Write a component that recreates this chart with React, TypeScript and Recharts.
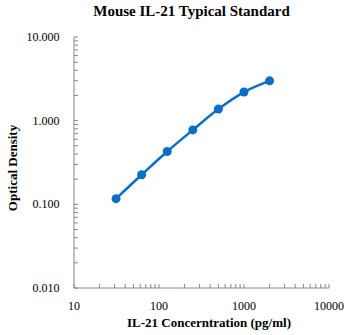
import { Label, Line, LineChart, XAxis, YAxis } from "recharts"

const concentrations = [31.25, 62.5, 125, 250, 500, 1000, 2000]
const densities = [0.117, 0.226, 0.428, 0.775, 1.378, 2.198, 2.99]

const xTicks = [
  10, 20, 30, 40, 50, 60, 70, 80, 90,
  100, 200, 300, 400, 500, 600, 700, 800, 900,
  1000, 2000, 3000, 4000, 5000, 6000, 7000, 8000, 9000,
  10000,
]
const xMajor = [10, 100, 1000, 10000]
const yTicks = [
  0.01, 0.02, 0.03, 0.04, 0.05, 0.06, 0.07, 0.08, 0.09,
  0.1, 0.2, 0.3, 0.4, 0.5, 0.6, 0.7, 0.8, 0.9,
  1, 2, 3, 4, 5, 6, 7, 8, 9,
  10,
]
const yMajor = [0.01, 0.1, 1, 10]

const data = concentrations.map((c, i) => ({ conc: c, od: densities[i] }))

const FONT = "'Liberation Serif', 'Times New Roman', serif"
const AXIS = "#868686"
const BLUE = "#0a6fc2"

const isMajor = (list: number[], v: number) => list.some((m) => Math.abs(m - v) < 1e-9)

function XTick(props: any) {
  const { x, y, payload } = props
  const major = isMajor(xMajor, payload.value)
  return (
    <g>
      <line x1={x} x2={x} y1={y} y2={y - 4} stroke={AXIS} strokeWidth={1} />
      {major && (
        <text x={x} y={y + 22} textAnchor="middle" fontFamily={FONT} fontSize={12} fill="#000">
          {payload.value}
        </text>
      )}
    </g>
  )
}

function YTick(props: any) {
  const { x, y, payload } = props
  const major = isMajor(yMajor, payload.value)
  return (
    <g>
      <line x1={x} x2={x + 4} y1={y} y2={y} stroke={AXIS} strokeWidth={1} />
      {major && (
        <text x={x - 14.5} y={y + 4} textAnchor="end" fontFamily={FONT} fontSize={12} fill="#000">
          {payload.value.toFixed(3)}
        </text>
      )}
    </g>
  )
}

export default function App() {
  return (
    <div style={{ position: "absolute", left: 0, top: 0, width: 349, height: 335, background: "#fff" }}>
      <div
        style={{
          position: "absolute",
          top: 3,
          left: 0,
          width: 383,
          textAlign: "center",
          fontFamily: FONT,
          fontWeight: "bold",
          fontSize: 15,
          color: "#000",
        }}
      >
        Mouse IL-21 Typical Standard
      </div>
      <LineChart width={349} height={335} data={data} margin={{ top: 37, right: 20, left: 0, bottom: 0 }}>
        <XAxis
          dataKey="conc"
          type="number"
          scale="log"
          domain={[10, 10000]}
          ticks={xTicks}
          interval={0}
          height={47}
          tickSize={0}
          tickMargin={0}
          tickLine={false}
          tick={<XTick />}
          axisLine={{ stroke: AXIS }}
          allowDataOverflow
        >
          <Label
            content={() => (
              <text x={209} y={327} textAnchor="middle" fontFamily={FONT} fontWeight="bold" fontSize={13} fill="#000">
                IL-21 Concerntration (pg/ml)
              </text>
            )}
          />
        </XAxis>
        <YAxis
          dataKey="od"
          type="number"
          scale="log"
          domain={[0.01, 10]}
          ticks={yTicks}
          interval={0}
          width={74}
          tickSize={0}
          tickMargin={0}
          tickLine={false}
          tick={<YTick />}
          axisLine={{ stroke: AXIS }}
          allowDataOverflow
        >
          <Label
            content={() => (
              <text
                x={16.5}
                y={168}
                transform="rotate(-90, 16.5, 168)"
                textAnchor="middle"
                fontFamily={FONT}
                fontWeight="bold"
                fontSize={13}
                fill="#000"
              >
                Optical Density
              </text>
            )}
          />
        </YAxis>
        <Line
          type="monotone"
          dataKey="od"
          stroke={BLUE}
          strokeWidth={2.5}
          dot={{ r: 4.5, fill: BLUE, stroke: BLUE, strokeWidth: 0 }}
          isAnimationActive={false}
        />
      </LineChart>
    </div>
  )
}
